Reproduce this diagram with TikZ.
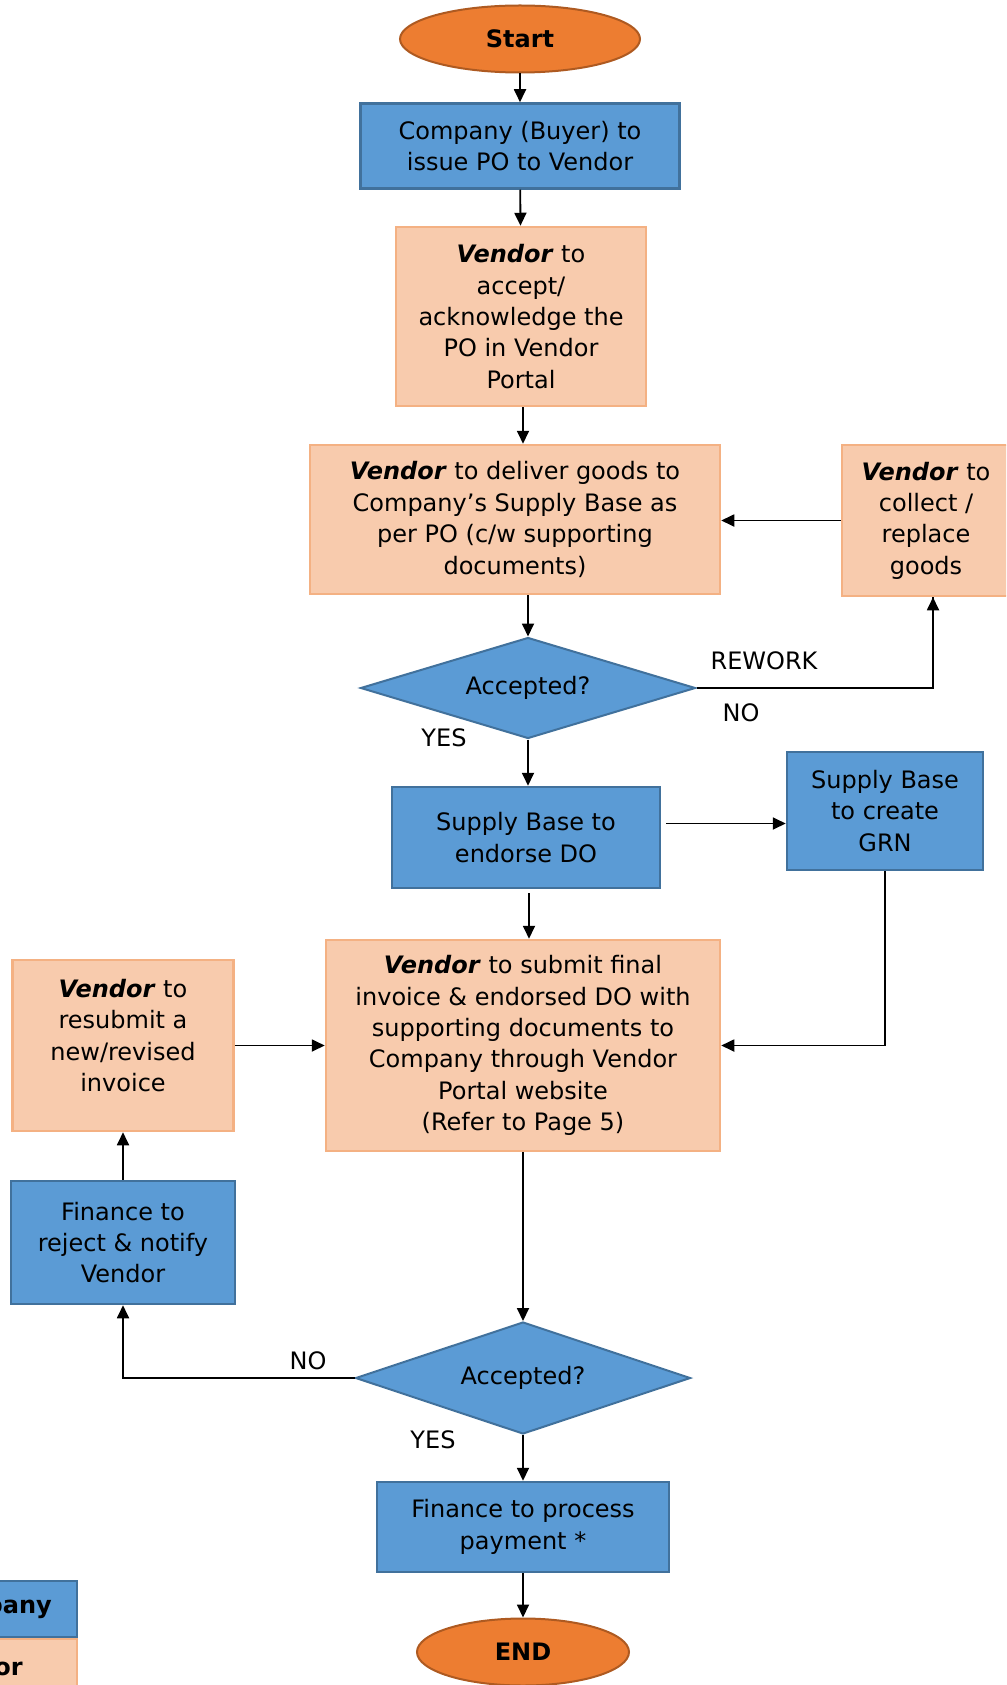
\documentclass[tikz,border=0pt]{standalone}
\usepackage{fontspec}
\setmainfont{DejaVu Sans}
\usepackage{tikz}
\usetikzlibrary{shapes.geometric, arrows.meta, calc, positioning}
\usepackage{xcolor}

\definecolor{bluefill}{HTML}{5B9BD5}
\definecolor{blueedge}{HTML}{41719C}
\definecolor{peachfill}{HTML}{F8CBAD}
\definecolor{peachedge}{HTML}{F4B183}
\definecolor{orangefill}{HTML}{ED7D31}
\definecolor{orangeedge}{HTML}{AE5A21}

\newcommand{\vend}{\textbf{\textit{Vendor}}}

\tikzset{
  txt/.style={font=\fontsize{24}{31.4}\selectfont, align=center, inner sep=0pt},
  bluebox/.style={txt, rectangle, draw=blueedge, fill=bluefill, line width=2.5pt},
  peachbox/.style={txt, rectangle, draw=peachedge, fill=peachfill, line width=2.5pt},
  terminal/.style={txt, ellipse, draw=orangeedge, fill=orangefill, line width=2pt, font=\fontsize{24}{31.4}\selectfont\bfseries},
  decision/.style={txt, diamond, aspect=3.3, draw=blueedge, fill=bluefill, line width=2pt},
  arr/.style={line width=1.8pt, -{Triangle[length=13pt,width=12pt]}},
  lnk/.style={line width=1.8pt}
}

\begin{document}
\begin{tikzpicture}[x=1pt, y=-1pt]
    \useasboundingbox (0,0) rectangle (1006,1685);
    \clip (0,0) rectangle (1006,1685);

    % main column
    \node[terminal, minimum width=240, minimum height=67] (start) at (520,39) {Start};
    \node[bluebox, minimum width=319, minimum height=85] (po) at (520,146) {Company (Buyer) to\\issue PO to Vendor};
    \node[peachbox, minimum width=250, minimum height=179] (accept) at (521,316.5) {\vend{} to\\accept/\\acknowledge the\\PO in Vendor\\Portal};
    \node[peachbox, minimum width=410, minimum height=149] (deliver) at (515,519.5) {\vend{} to deliver goods to\\Company’s Supply Base as\\per PO (c/w supporting\\documents)};
    \node[peachbox, minimum width=168, minimum height=151] (collect) at (926,520.5) {\vend{} to\\collect /\\replace\\goods};
    \node[decision, minimum width=335, minimum height=101, text depth=6pt] (dec1) at (528,688) {Accepted?};
    \node[bluebox, minimum width=268, minimum height=101] (endorse) at (526,837.5) {Supply Base to\\endorse DO};
    \node[bluebox, minimum width=196, minimum height=118] (grn) at (885,811) {Supply Base\\to create\\GRN};
    \node[peachbox, minimum width=394, minimum height=211] (submit) at (523,1045.5) {\vend{} to submit final\\invoice \& endorsed DO with\\supporting documents to\\Company through Vendor\\Portal website\\(Refer to Page 5)};
    \node[peachbox, minimum width=221, minimum height=171, text depth=20pt] (resubmit) at (123,1045.5) {\vend{} to\\resubmit a\\new/revised\\invoice};
    \node[bluebox, minimum width=224, minimum height=123] (reject) at (123,1242.5) {Finance to\\reject \& notify\\Vendor};
    \node[decision, minimum width=335, minimum height=112] (dec2) at (523,1378) {Accepted?};
    \node[bluebox, minimum width=292, minimum height=90] (pay) at (523,1527) {Finance to process\\payment *};
    \node[terminal, minimum width=212, minimum height=67] (end) at (523,1652) {END};

    % labels
    \node[txt] (rework) at (764,661) {REWORK};
    \node[txt] (no1) at (741,713) {NO};
    \node[txt] (yes1) at (444,738) {YES};
    \node[txt] (no2) at (308,1361) {NO};
    \node[txt] (yes2) at (433,1440) {YES};

    % legend
    \node[bluebox, minimum width=200, minimum height=56, anchor=east] (legco) at (78,1609) {};
    \node[peachbox, minimum width=200, minimum height=56, anchor=east] (legve) at (78,1667) {};
    \node[txt, font=\fontsize{24}{31.4}\selectfont\bfseries, anchor=east] (legcot) at (52,1607) {Company};
    \node[txt, font=\fontsize{24}{31.4}\selectfont\bfseries, anchor=east] (legvet) at (23,1667) {Vendor};

    % connectors
    \draw[arr] (start) -- (po);
    \draw[arr] (po) -- (accept);
    \draw[arr] (accept.south -| 523,0) -- (deliver.north -| 523,0);
    \draw[arr] (dec1.north |- deliver.south) -- (dec1.north);
    \draw[arr] (collect.west) -- (deliver.east |- collect.west);
    \draw[lnk] (dec1.east) -| (collect.south -| 933,0);
    \draw[arr] (collect.south -| 933,0) ++(0,40) -- (collect.south -| 933,0);
    \draw[arr] (dec1.south) -- (dec1.south |- endorse.north);
    \coordinate (grnin) at ($(endorse.east)+(5,-14)$);
    \draw[arr] (grnin) -- (grnin -| grn.west);
    \draw[arr] (grn.south) |- (submit.east);
    \draw[arr] ($(endorse.south)+(3,4)$) -- ($(endorse.south |- submit.north)+(3,0)$);
    \draw[arr] (resubmit.east) -- (resubmit.east -| submit.west);
    \draw[arr] (submit.south) -- (dec2.north);
    \draw[arr] (reject.north) -- (resubmit.south);
    \draw[arr] (dec2.west) -| (reject.south);
    \draw[arr] (dec2.south) -- (pay.north);
    \draw[arr] (pay.south) -- (end.north);

\end{tikzpicture}
\end{document}
